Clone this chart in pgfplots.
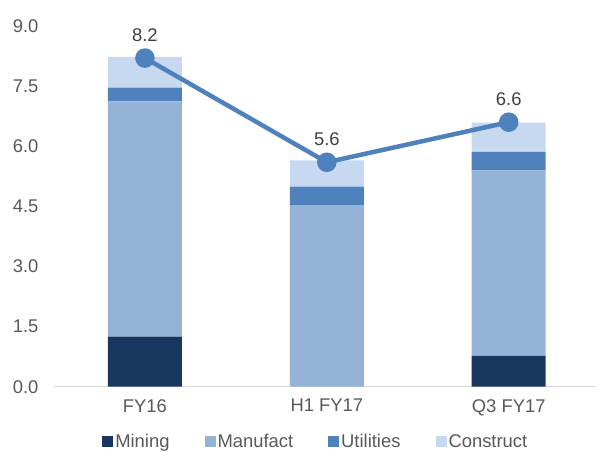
\documentclass[border=0pt]{standalone}
\usepackage{pgfplots}
\pgfplotsset{compat=1.18}
\usepackage{fontspec}
\setmainfont{Liberation Sans}
\definecolor{cMin}{HTML}{17375E}
\definecolor{cMan}{HTML}{95B3D7}
\definecolor{cUti}{HTML}{4F81BD}
\definecolor{cCon}{HTML}{C6D9F1}
\definecolor{txt}{HTML}{595959}
\definecolor{dtxt}{HTML}{404040}
\definecolor{axl}{HTML}{D9D9D9}
\begin{document}
\begin{tikzpicture}
\useasboundingbox (-54pt,-64.3pt) rectangle (542pt,386.7pt);
\pgfplotsset{
  common/.style={
    scale only axis, width=542pt, height=360.7pt,
    xmin=-0.5, xmax=2.48, ymin=0, ymax=9,
    font=\fontsize{18.4}{22}\selectfont,
  }
}
\begin{axis}[common,
  ybar stacked, bar width=74pt,
  axis x line*=bottom, axis y line*=left,
  y axis line style={draw=none},
  x axis line style={draw=axl, line width=1pt},
  xtick={0,1,2}, xticklabels={FY16,H1 FY17,Q3 FY17},
  ytick={0,1.5,...,9},
  /pgf/number format/fixed, /pgf/number format/fixed zerofill, /pgf/number format/precision=1,
  /pgf/number format/assume math mode=true,
  major tick length=0pt,
  tick label style={text=txt},
  yticklabel style={xshift=-12pt},
  xticklabel style={yshift=-9pt},
  legend style={at={(axis description cs:0.483,-0.152)}, anchor=center,
    draw=none, legend columns=4, text=txt,
    nodes={inner xsep=2pt},
    /tikz/every even column/.append style={column sep=33pt}},
  legend image code/.code={\fill[#1] (0pt,-5.5pt) rectangle (11pt,5.5pt);},
  legend cell align=left,
]
\addplot[fill=cMin, draw=none] coordinates {(0,1.25) (1,0.0) (2,0.77)};
\addplot[fill=cMan, draw=none] coordinates {(0,5.87) (1,4.53) (2,4.63)};
\addplot[fill=cUti, draw=none] coordinates {(0,0.34) (1,0.46) (2,0.46)};
\addplot[fill=cCon, draw=none] coordinates {(0,0.77) (1,0.66) (2,0.73)};
\legend{Mining,Manufact,Utilities,Construct}
\end{axis}
\begin{axis}[common, hide axis, clip=false]
\addplot[cUti, line width=4.5pt, mark=*, mark size=7.5pt,
  nodes near coords={\pgfmathprintnumber[fixed,fixed zerofill,precision=1]{\pgfplotspointmeta}},
  /pgf/number format/assume math mode=true,
  every node near coord/.style={text=dtxt, anchor=south, yshift=11pt}]
  coordinates {(0,8.2) (1,5.6) (2,6.6)};
\end{axis}
\end{tikzpicture}
\end{document}
